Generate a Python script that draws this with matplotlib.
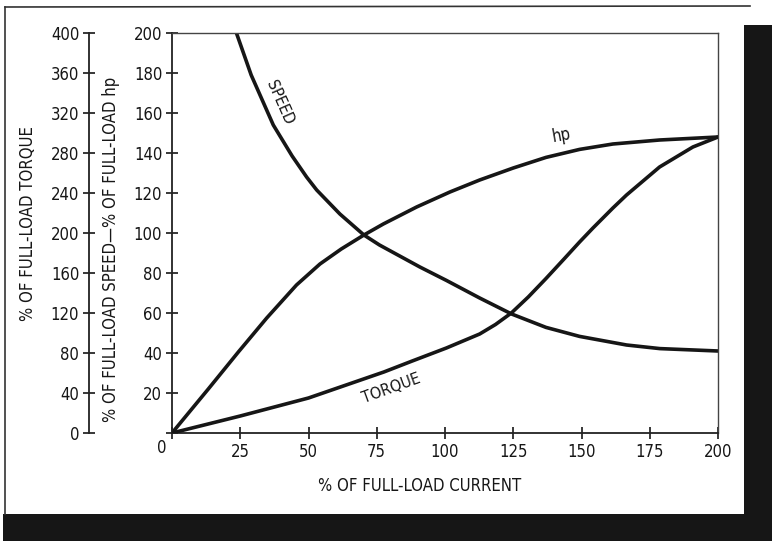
import matplotlib
matplotlib.use("Agg")
import matplotlib.pyplot as plt
from matplotlib.patches import Rectangle
from matplotlib.lines import Line2D

plt.rcParams['font.family'] = ['DejaVu Sans']
plt.rcParams['font.stretch'] = 'condensed'

# Series-motor characteristics vs. % of full-load current
speed_current = [23.6, 29, 37.1, 44, 49.3, 53, 61.5, 70.3, 76, 90.8, 100.5, 112.7, 124.4, 137, 149.3, 166.5, 178.7, 200]
speed_pct = [200, 179, 154, 138.5, 128, 121.5, 109.5, 99, 94, 83, 76.3, 67.5, 59.5, 52.8, 48.3, 44, 42.2, 41]

hp_current = [0, 13.3, 24.3, 34.7, 45.6, 54.2, 62, 70.3, 77.4, 89.6, 101.8, 112.7, 125, 137, 149.3, 161.5, 178.6, 200]
hp_pct = [0, 22, 40.5, 57.5, 74, 84.5, 92, 99, 104.5, 113, 120.5, 126.5, 132.5, 137.8, 141.8, 144.5, 146.5, 148]

torque_current = [0, 25, 50, 77.6, 88, 100.5, 112.7, 118.5, 124.3, 130.5, 137, 143.6, 149.3, 154.2, 161.5, 166.5, 178.6, 190.8, 200]
torque_pct = [0, 17, 35, 61, 72, 85, 99, 108.5, 120, 136, 154.5, 174, 191, 205, 225, 238, 266, 286, 296]

x_ticks = [0, 25, 50, 75, 100, 125, 150, 175, 200]
y_ticks = [0, 20, 40, 60, 80, 100, 120, 140, 160, 180, 200]
torque_ticks = [0, 40, 80, 120, 160, 200, 240, 280, 320, 360, 400]

W, H = 776, 541
fig = plt.figure(figsize=(W / 100, H / 100), dpi=100)
fig.patch.set_facecolor('white')


def fx(px):
    return px / W


def fy(py):
    return 1 - py / H


ink = '#161616'

# paper sheet with its dark shadow on the right and bottom
fig.add_artist(Rectangle((fx(744), fy(541)), fx(772) - fx(744), fy(25) - fy(541),
                         transform=fig.transFigure, facecolor=ink, edgecolor='none', zorder=0))
fig.add_artist(Rectangle((fx(3), fy(541)), fx(772) - fx(3), fy(514) - fy(541),
                         transform=fig.transFigure, facecolor=ink, edgecolor='none', zorder=0))
fig.add_artist(Line2D([fx(5), fx(750)], [fy(7), fy(6)], transform=fig.transFigure,
                      color='#333333', lw=1.2, zorder=1))
fig.add_artist(Line2D([fx(5), fx(5)], [fy(7), fy(514)], transform=fig.transFigure,
                      color='#333333', lw=1.2, zorder=1))

ax = fig.add_axes([fx(172), fy(433), (718 - 172) / W, 400 / H])
ax.set_xlim(0, 200)
ax.set_ylim(0, 200)
for s in ax.spines.values():
    s.set_color('#444444')
    s.set_linewidth(1.0)
ax.spines['left'].set_color('#222222')
ax.spines['bottom'].set_color('#222222')
ax.spines['left'].set_linewidth(1.3)
ax.spines['bottom'].set_linewidth(1.3)

ax.set_xticks(x_ticks)
ax.set_xticklabels([''] + [str(t) for t in x_ticks[1:]])
ax.set_yticks(y_ticks)
ax.set_yticklabels([''] + [str(t) for t in y_ticks[1:]])
ax.tick_params(direction='inout', length=8, width=1.2, labelsize=12, pad=3, colors=ink)
ax.annotate('0', xy=(0, 0), xycoords='data', xytext=(-10, -15), textcoords='offset pixels',
            ha='center', va='center', fontsize=12, color=ink)

ax.plot(speed_current, speed_pct, color=ink, lw=2.6, solid_capstyle='round', solid_joinstyle='round')
ax.plot(hp_current, hp_pct, color=ink, lw=2.6, solid_capstyle='round', solid_joinstyle='round')

ax.set_xlabel('% OF FULL-LOAD CURRENT', fontsize=12, color=ink)
ax.xaxis.set_label_coords(0.454, -0.11)
ax.set_ylabel('% OF FULL-LOAD SPEED\u2014% OF FULL-LOAD hp', fontsize=12, color=ink)
ax.yaxis.set_label_coords(-0.095, 0.459)

ax.text(39.5, 165, 'SPEED', rotation=-66, ha='center', va='center', fontsize=11.5, color=ink,
        rotation_mode='anchor')
ax.text(142.7, 149, 'hp', rotation=10, ha='center', va='center', fontsize=12, color=ink,
        rotation_mode='anchor')
ax.text(80.5, 22.5, 'TORQUE', rotation=20, ha='center', va='center', fontsize=11.5, color=ink,
        rotation_mode='anchor')

# torque scale on a second left-hand axis
ax2 = ax.twinx()
ax2.set_ylim(0, 400)
ax2.yaxis.tick_left()
ax2.yaxis.set_label_position('left')
ax2.spines['left'].set_visible(True)
ax2.spines['left'].set_position(('outward', 83 * 72 / 100))
ax2.spines['left'].set_color('#222222')
ax2.spines['left'].set_linewidth(1.3)
for k in ('right', 'top', 'bottom'):
    ax2.spines[k].set_visible(False)
ax2.set_yticks(torque_ticks)
ax2.tick_params(axis='y', direction='inout', length=8, width=1.2, labelsize=12, pad=3, colors=ink)
ax2.set_ylabel('% OF FULL-LOAD TORQUE', fontsize=12, color=ink)
ax2.yaxis.set_label_coords(-0.247, 0.524)
ax2.plot(torque_current, torque_pct, color=ink, lw=2.6, solid_capstyle='round', solid_joinstyle='round')

fig.savefig('out.png', dpi=100)
